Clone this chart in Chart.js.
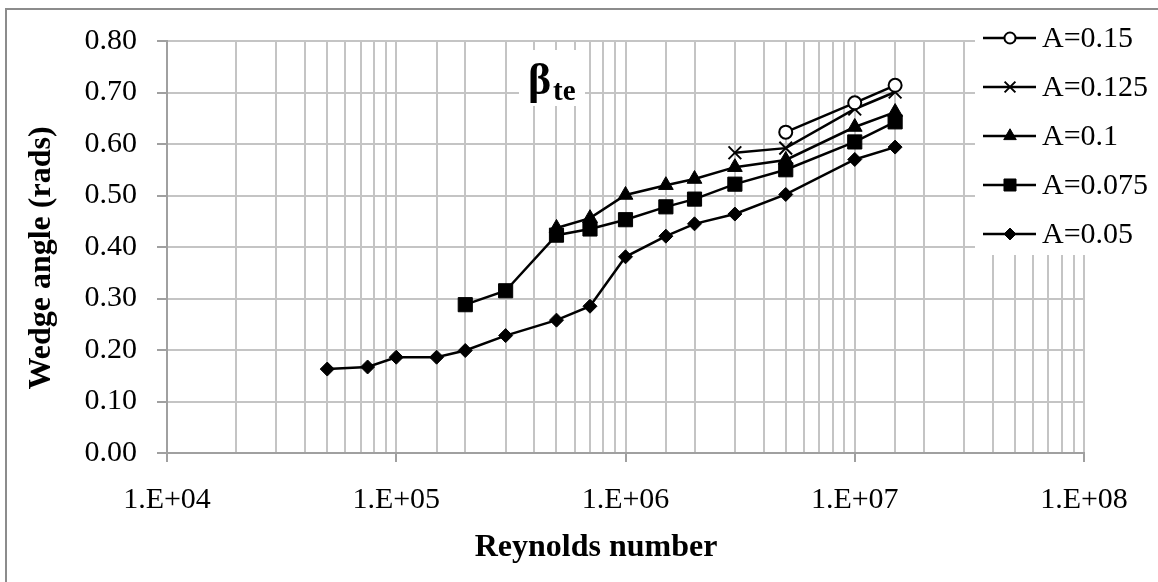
<!DOCTYPE html>
<html>
<head>
<meta charset="utf-8">
<script src="https://cdn.jsdelivr.net/npm/chart.js@4.4.1/dist/chart.umd.min.js"></script>
<style>
    html, body { margin: 0; padding: 0; background: #fff; }
</style>
</head>
<body>
<canvas id="chartWedge" width="1158" height="582"></canvas>
<script>
const seriesLabels = ['A=0.15', 'A=0.125', 'A=0.1', 'A=0.075', 'A=0.05'];

const reA150 = [5e6, 1e7, 1.5e7];
const betaA150 = [0.623, 0.680, 0.714];

const reA125 = [3e6, 5e6, 1e7, 1.5e7];
const betaA125 = [0.583, 0.592, 0.668, 0.701];

const reA100 = [5e5, 7e5, 1e6, 1.5e6, 2e6, 3e6, 5e6, 1e7, 1.5e7];
const betaA100 = [0.437, 0.456, 0.501, 0.520, 0.532, 0.555, 0.569, 0.633, 0.662];

const reA075 = [2e5, 3e5, 5e5, 7e5, 1e6, 1.5e6, 2e6, 3e6, 5e6, 1e7, 1.5e7];
const betaA075 = [0.288, 0.315, 0.423, 0.435, 0.453, 0.478, 0.493, 0.522, 0.550, 0.604, 0.643];

const reA050 = [5e4, 7.5e4, 1e5, 1.5e5, 2e5, 3e5, 5e5, 7e5, 1e6, 1.5e6, 2e6, 3e6, 5e6, 1e7, 1.5e7];
const betaA050 = [0.163, 0.167, 0.186, 0.186, 0.199, 0.228, 0.258, 0.285, 0.381, 0.421, 0.445, 0.464, 0.502, 0.570, 0.594];

const xTickLabels = ['1.E+04', '1.E+05', '1.E+06', '1.E+07', '1.E+08'];
const yTickLabels = ['0.00', '0.10', '0.20', '0.30', '0.40', '0.50', '0.60', '0.70', '0.80'];

const xTitle = 'Reynolds number';
const yTitle = 'Wedge angle (rads)';

const SERIF = "'Liberation Serif', 'Times New Roman', serif";
const GRID = '#c4c4c4';
const AXIS = '#a0a0a0';

document.addEventListener("DOMContentLoaded", () => {
    renderChart();
});

function makeSeries(label, xs, ys, style, radius, fill, borderW) {
    return {
        label: label,
        data: xs.map((x, i) => ({ x: x, y: ys[i] })),
        showLine: true,
        borderColor: '#000',
        borderWidth: 2.5,
        pointStyle: style,
        pointRadius: radius,
        pointHoverRadius: radius,
        pointBackgroundColor: fill,
        pointBorderColor: '#000',
        pointBorderWidth: borderW
    };
}

function isDecade(v) {
    const e = Math.log10(v);
    return Math.abs(e - Math.round(e)) < 1e-9;
}

// outer frame of the figure
const framePlugin = {
    id: 'frame',
    beforeDraw(chart) {
        const ctx = chart.ctx;
        ctx.save();
        ctx.fillStyle = '#fff';
        ctx.fillRect(0, 0, chart.width, chart.height);
        ctx.strokeStyle = '#8c8c8c';
        ctx.lineWidth = 2;
        ctx.strokeRect(6, 9, chart.width + 20, chart.height + 20);
        ctx.restore();
    }
};

// boxed legend at the top right, drawn over the grid
const legendPlugin = {
    id: 'legendBox',
    afterDraw(chart) {
        const ctx = chart.ctx;
        ctx.save();
        ctx.fillStyle = '#fff';
        ctx.fillRect(975, 11, chart.width - 975, 244);
        chart.data.datasets.forEach((ds, i) => {
            const y = 38 + i * 49;
            ctx.strokeStyle = '#000';
            ctx.lineWidth = 2.5;
            ctx.beginPath();
            ctx.moveTo(983, y);
            ctx.lineTo(1036, y);
            ctx.stroke();

            ctx.fillStyle = ds.pointBackgroundColor;
            ctx.strokeStyle = '#000';
            ctx.lineWidth = ds.pointBorderWidth;
            Chart.helpers.drawPoint(ctx, {
                pointStyle: ds.pointStyle,
                radius: ds.pointRadius * 0.85,
                borderWidth: ds.pointBorderWidth,
                rotation: 0
            }, 1010, y);

            ctx.fillStyle = '#000';
            ctx.font = `30px ${SERIF}`;
            ctx.textAlign = 'left';
            ctx.textBaseline = 'middle';
            ctx.fillText(ds.label, 1042, y + 1);
        });
        ctx.restore();
    }
};

// beta_te caption inside the plot, plus the two axis titles
const captionPlugin = {
    id: 'caption',
    afterDraw(chart) {
        const ctx = chart.ctx;
        ctx.save();
        ctx.fillStyle = '#fff';
        ctx.fillRect(519, 50, 66, 56);
        ctx.fillStyle = '#000';
        ctx.textAlign = 'left';
        ctx.textBaseline = 'alphabetic';
        ctx.font = `bold 44px ${SERIF}`;
        ctx.fillText('β', 528, 94);
        ctx.font = `bold 29px ${SERIF}`;
        ctx.fillText('te', 553, 100);

        ctx.textAlign = 'center';
        ctx.textBaseline = 'middle';
        ctx.font = `bold 32px ${SERIF}`;
        ctx.fillText(xTitle, 596, 548);

        ctx.translate(42, 258);
        ctx.rotate(-Math.PI / 2);
        ctx.fillText(yTitle, 0, 0);
        ctx.restore();
    }
};

function renderChart() {
    const ctx = document.getElementById('chartWedge').getContext('2d');

    new Chart(ctx, {
        type: 'scatter',
        data: {
            datasets: [
                makeSeries(seriesLabels[0], reA150, betaA150, 'circle', 6.5, '#fff', 2),
                makeSeries(seriesLabels[1], reA125, betaA125, 'crossRot', 9, '#000', 2),
                makeSeries(seriesLabels[2], reA100, betaA100, 'triangle', 8.5, '#000', 1),
                makeSeries(seriesLabels[3], reA075, betaA075, 'rect', 10, '#000', 1),
                makeSeries(seriesLabels[4], reA050, betaA050, 'rectRot', 7, '#000', 1)
            ]
        },
        options: {
            responsive: false,
            animation: false,
            layout: { padding: { top: 41, right: 74, bottom: 0, left: 0 } },
            plugins: {
                legend: { display: false },
                tooltip: { enabled: false }
            },
            scales: {
                x: {
                    type: 'logarithmic',
                    min: 1e4,
                    max: 1e8,
                    afterFit: (scale) => { scale.height = 129; },
                    grid: {
                        color: GRID,
                        lineWidth: 2,
                        tickLength: 9,
                        tickWidth: 2,
                        tickColor: (c) => (c.tick && isDecade(c.tick.value)) ? AXIS : 'rgba(0,0,0,0)'
                    },
                    border: { color: AXIS, width: 2 },
                    ticks: {
                        autoSkip: false,
                        maxRotation: 0,
                        minRotation: 0,
                        padding: 20,
                        color: '#000',
                        font: { family: SERIF, size: 30 },
                        callback: (v) => isDecade(v) ? xTickLabels[Math.round(Math.log10(v)) - 4] : ''
                    }
                },
                y: {
                    min: 0,
                    max: 0.8,
                    afterFit: (scale) => { scale.width = 167; },
                    grid: { color: GRID, lineWidth: 2, tickLength: 10, tickColor: AXIS, tickWidth: 2 },
                    border: { color: AXIS, width: 2 },
                    ticks: {
                        stepSize: 0.1,
                        padding: 20,
                        color: '#000',
                        font: { family: SERIF, size: 30 },
                        callback: (v) => yTickLabels[Math.round(v * 10)]
                    }
                }
            }
        },
        plugins: [framePlugin, legendPlugin, captionPlugin]
    });
}
</script>
</body>
</html>
